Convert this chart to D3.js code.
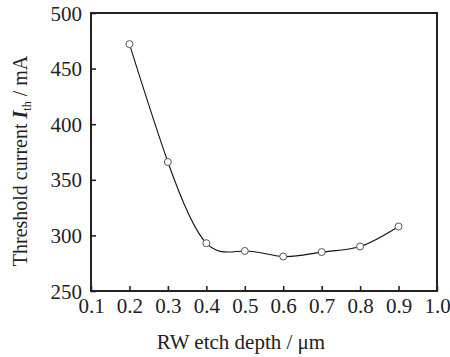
<!DOCTYPE html>
<html><head><meta charset="utf-8">
<script src="https://cdn.jsdelivr.net/npm/d3@7"></script>
<style>
html,body{margin:0;padding:0;background:#fff;}
svg{display:block;}
</style></head>
<body>
<svg id="chart" width="450" height="357"></svg>
<script>
const depth = [0.2, 0.3, 0.4, 0.5, 0.6, 0.7, 0.8, 0.9];
const current = [472, 366, 293, 286, 281, 285, 290, 308];
const xTicks = [0.1, 0.2, 0.3, 0.4, 0.5, 0.6, 0.7, 0.8, 0.9, 1.0];
const yTicks = [250, 300, 350, 400, 450, 500];
const FONT = "'Liberation Serif'";

const svg = d3.select("#chart");
const m = {left: 91, right: 437, top: 13, bottom: 291};
const x = d3.scaleLinear().domain([0.1, 1.0]).range([m.left, m.right]);
const y = d3.scaleLinear().domain([250, 500]).range([m.bottom, m.top]);

// frame
svg.append("rect").attr("x", m.left).attr("y", m.top)
  .attr("width", m.right - m.left).attr("height", m.bottom - m.top)
  .attr("fill", "none").attr("stroke", "#222").attr("stroke-width", 2);

// x axis
const xa = svg.append("g").attr("transform", `translate(0,${m.bottom})`)
  .call(d3.axisBottom(x).tickValues(xTicks).tickSizeInner(-5).tickSizeOuter(0).tickPadding(22).tickFormat(d3.format(".1f")));
xa.attr("font-family", FONT);
xa.select(".domain").remove();
xa.selectAll("line").attr("stroke", "#222").attr("stroke-width", 1.6);
xa.selectAll("text").attr("font-size", 21).attr("font-family", FONT).attr("fill", "#222").attr("dy", "0");

// y axis
const ya = svg.append("g").attr("transform", `translate(${m.left},0)`)
  .call(d3.axisLeft(y).tickValues(yTicks).tickSizeInner(-5).tickSizeOuter(0).tickPadding(9).tickFormat(d3.format("d")));
ya.attr("font-family", FONT);
ya.select(".domain").remove();
ya.selectAll("line").attr("stroke", "#222").attr("stroke-width", 1.6);
ya.selectAll("text").attr("font-size", 21).attr("font-family", FONT).attr("fill", "#222").attr("dy", "0.34em");

// curve
const pts = depth.map((d, i) => [d, current[i]]);
const line = d3.line().x(d => x(d[0])).y(d => y(d[1])).curve(d3.curveNatural);
svg.append("path").attr("d", line(pts)).attr("fill", "none")
  .attr("stroke", "#111").attr("stroke-width", 1.1);

svg.selectAll("circle.pt").data(pts).enter().append("circle")
  .attr("class", "pt").attr("cx", d => x(d[0])).attr("cy", d => y(d[1]))
  .attr("r", 3.5).attr("fill", "#fff").attr("stroke", "#555").attr("stroke-width", 1);

// axis titles
svg.append("text").attr("x", 241).attr("y", 349).attr("text-anchor", "middle")
  .attr("font-family", FONT).attr("font-size", 21).attr("fill", "#222").text("RW etch depth / μm");

const yt = svg.append("text").attr("transform", "translate(27,161) rotate(-90)")
  .attr("text-anchor", "middle").attr("font-family", FONT).attr("font-size", 20).attr("fill", "#222");
yt.append("tspan").text("Threshold current ");
yt.append("tspan").attr("font-style", "italic").attr("font-weight", "bold").text("I");
yt.append("tspan").attr("font-size", 12).attr("dy", 4).text("th");
yt.append("tspan").attr("dy", -4).text(" / mA");
</script>
</body></html>
